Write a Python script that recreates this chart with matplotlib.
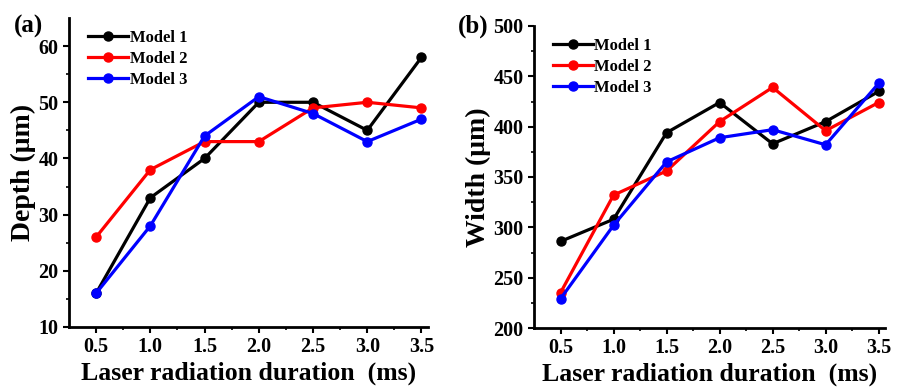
import matplotlib.pyplot as plt
import numpy as np

plt.rcParams['font.family'] = ['Liberation Serif', 'DejaVu Serif']
plt.rcParams['font.weight'] = 'bold'

# data
duration = [0.5, 1.0, 1.5, 2.0, 2.5, 3.0, 3.5]
depth_m1 = [16, 33, 40, 50, 50, 45, 58]
depth_m2 = [26, 38, 43, 43, 49, 50, 49]
depth_m3 = [16, 28, 44, 51, 48, 43, 47]
width_m1 = [286, 308, 394, 424, 383, 405, 435]
width_m2 = [235, 332, 356, 405, 439, 396, 424]
width_m3 = [229, 302, 365, 389, 397, 382, 443]
labels = ['Model 1', 'Model 2', 'Model 3']
colors = ['black', 'red', 'blue']

fig = plt.figure(figsize=(9.02, 3.87), dpi=100)
ax1 = fig.add_axes([69/902, 1 - 327/387, 359/902, 309/387])
ax2 = fig.add_axes([534/902, 1 - 328/387, 351/902, 302/387])


def draw(ax, series, ylim, yticks, ylabel, tag, tag_x):
    for vals, lab, c in zip(series, labels, colors):
        ax.plot(duration, vals, '-o', color=c, lw=2.3, ms=6.5,
                markeredgecolor=c, markerfacecolor=c, label=lab)
    ax.set_xlim(0.25, 3.56)
    ax.set_ylim(*ylim)
    ax.set_xticks(duration)
    ax.set_xticks([0.75, 1.25, 1.75, 2.25, 2.75, 3.25], minor=True)
    ax.set_yticks(yticks)
    ax.set_yticks(np.array(yticks[:-1]) + (yticks[1] - yticks[0]) / 2, minor=True)
    ax.spines['top'].set_visible(False)
    ax.spines['right'].set_visible(False)
    ax.spines['left'].set_linewidth(2)
    ax.spines['bottom'].set_linewidth(2)
    ax.tick_params(which='major', direction='out', length=4, width=1.5,
                   labelsize=14.5)
    ax.tick_params(which='minor', direction='out', length=2.5, width=1.2)
    for t in ax.get_xticklabels() + ax.get_yticklabels():
        t.set_fontweight('bold')
    ax.set_xlabel('Laser radiation duration  (ms)', fontsize=18.5,
                  fontweight='bold', labelpad=3)
    ax.set_ylabel(ylabel, fontsize=20, fontweight='bold', labelpad=2)
    leg = ax.legend(loc='upper left', frameon=False, fontsize=12,
                    handlelength=2.4, handletextpad=0.1, labelspacing=0.3,
                    borderaxespad=0.3, bbox_to_anchor=(0.02, 1.0))
    for t in leg.get_texts():
        t.set_fontweight('bold')
    fig.text(tag_x, 0.915, tag, fontsize=18, fontweight='bold')


draw(ax1, [depth_m1, depth_m2, depth_m3], (10, 65), [10, 20, 30, 40, 50, 60],
     'Depth (μm)', '(a)', 14/902)
draw(ax2, [width_m1, width_m2, width_m3], (200, 500),
     [200, 250, 300, 350, 400, 450, 500], 'Width (μm)', '(b)', 458/902)

fig.savefig('out.png', dpi=100)
